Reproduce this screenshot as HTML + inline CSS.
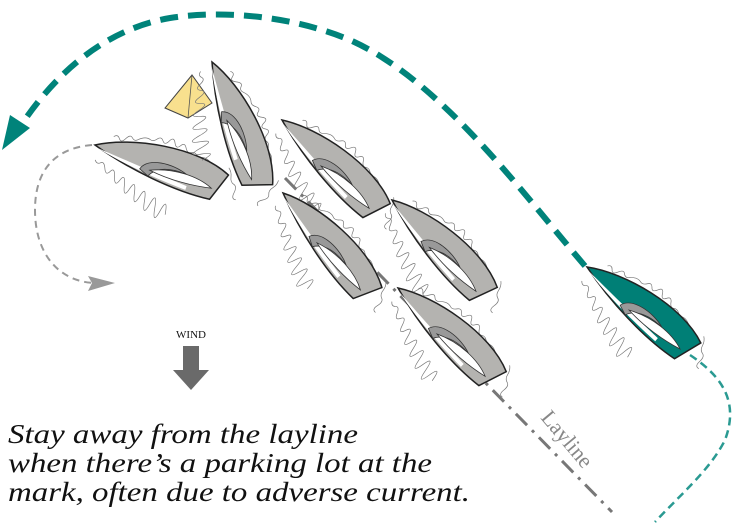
<!DOCTYPE html>
<html><head><meta charset="utf-8"><style>
html,body{margin:0;padding:0;background:#fff;width:750px;height:524px;overflow:hidden}
</style></head><body>
<svg width="750" height="524" viewBox="0 0 750 524" xmlns="http://www.w3.org/2000/svg">
<defs>
<g id="boat">
  <path d="M0,0 C32,-20 98,-32 136,-15 L126,14 C90,18 40,12 0,0 Z" stroke="#222" stroke-width="1.5"/>
  <path d="M4,2 C35,9 70,12 100,13 L100,9 C65,7 30,4 4,2 Z" fill="#fff"/>
  <path d="M50,8 C54,-6 80,-8 96,-2 C80,-3 66,0 60,12 Z" fill="#999" stroke="#333" stroke-width="0.8"/>
  <path d="M60,6 C82,-4 108,-4 124,3 C106,7 82,9 60,6 Z" fill="#fff" stroke="#333" stroke-width="0.8"/>
</g>
<g id="waves" fill="none" stroke="#777" stroke-width="0.7">
  <path d="M15,-14 q3,-4 6,0 t6,-2 t6,-3 t6,0 t6,-4 t6,0 t6,-3 t6,0 t6,-2 t6,0 t6,1 t6,0 t6,3 t6,0 t6,1 t6,0 t6,3 t6,2"/>
  <path d="M5,14 q3,4 6,1 t6,4 t6,1 t6,4 t6,1 t6,4 t6,1 t6,3 t6,1 t6,3 t6,1 t6,2 t6,1 t6,2"/>
  <path d="M134,-22 q4,3 5,8 t5,6 t3,8 t4,6"/>
</g>
</defs>

<!-- layline -->
<path d="M285,178 L612,512" stroke="#777" stroke-width="3" stroke-dasharray="16,7,3,7" fill="none"/>
<text x="0" y="0" transform="translate(540,418) rotate(50)" font-family="Liberation Serif, serif" font-size="22" fill="#888">Layline</text>

<!-- teal big dashed path -->
<path d="M585,266 C520,190 440,80 350,40 C290,15 220,10 170,18 C100,30 50,80 18,130" stroke="#00837a" stroke-width="6" fill="none" stroke-dasharray="18,10"/>
<path d="M2,150 L10,115 L30,128 Z" fill="#00837a"/>

<!-- teal thin dashed path -->
<path d="M690,355 C720,375 740,400 725,440 C710,470 680,495 655,522" stroke="#2a9a92" stroke-width="2.5" fill="none" stroke-dasharray="8,5"/>

<!-- gray dashed turn -->
<path d="M92,145 C55,148 35,170 35,210 C35,255 60,282 95,283" stroke="#999" stroke-width="2" fill="none" stroke-dasharray="7,5"/>
<path d="M115,283 L88,276 L92,283 L88,291 Z" fill="#999"/>

<!-- mark -->
<path d="M192,75 L165,108 L188,118 L212,103 Z" fill="#f8e08e" stroke="#444" stroke-width="1"/>
<path d="M192,75 L188,118" stroke="#555" stroke-width="0.8"/>

<!-- gray boats -->
<g fill="#b4b3b0">
  <g transform="translate(95,145) rotate(19)"><use href="#waves"/><use href="#boat"/></g>
  <g transform="translate(212,62) rotate(70)"><use href="#waves"/><use href="#boat"/></g>
  <g transform="translate(282,120) rotate(44)"><use href="#waves"/><use href="#boat"/></g>
  <g transform="translate(283,193) rotate(50)"><use href="#waves"/><use href="#boat"/></g>
  <g transform="translate(392,200) rotate(46)"><use href="#waves"/><use href="#boat"/></g>
  <g transform="translate(398,288) rotate(44)"><use href="#waves"/><use href="#boat"/></g>
</g>
<g fill="#007f76">
  <g transform="translate(587,267) rotate(40)"><use href="#waves"/><use href="#boat"/></g>
</g>

<!-- wind -->
<text x="191" y="338" text-anchor="middle" font-family="Liberation Serif, serif" font-size="11" fill="#111">WIND</text>
<rect x="183" y="346" width="16" height="26" fill="#6a6a6a"/>
<path d="M173,370 L209,370 L191,390 Z" fill="#6a6a6a"/>

<!-- caption -->
<g font-family="Liberation Serif, serif" font-style="italic" font-size="27" fill="#111">
<text x="8" y="443" textLength="350" lengthAdjust="spacingAndGlyphs">Stay away from the layline</text>
<text x="8" y="472" textLength="424" lengthAdjust="spacingAndGlyphs">when there’s a parking lot at the</text>
<text x="8" y="501" textLength="462" lengthAdjust="spacingAndGlyphs">mark, often due to adverse current.</text>
</g>
</svg>
</body></html>
